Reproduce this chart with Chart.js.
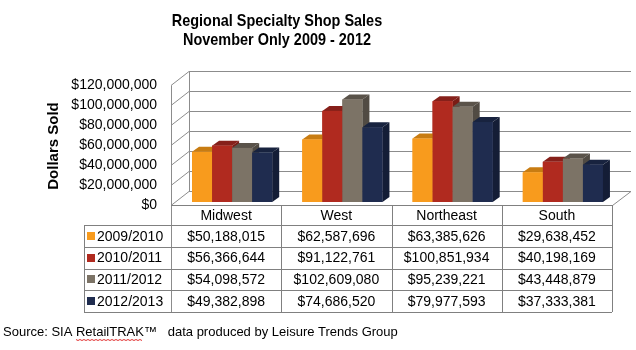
<!DOCTYPE html>
<html>
<head>
<meta charset="utf-8">
<script src="https://cdn.jsdelivr.net/npm/chart.js@4"></script>
<style>
  html, body { margin: 0; padding: 0; background: #fff; }
  #wrap { width: 636px; height: 350px; }
</style>
</head>
<body>
<div id="wrap"><canvas id="chart" width="636" height="350"></canvas></div>
<script>
const regions = ["Midwest", "West", "Northeast", "South"];
const seasons = ["2009/2010", "2010/2011", "2011/2012", "2012/2013"];
const sales2009 = [50188015, 62587696, 63385626, 29638452];
const sales2010 = [56366644, 91122761, 100851934, 40198169];
const sales2011 = [54098572, 102609080, 95239221, 43448879];
const sales2012 = [49382898, 74686520, 79977593, 37333381];
const yTickValues = [0, 20000000, 40000000, 60000000, 80000000, 100000000, 120000000];

const fronts = ["#F89B1D", "#B02A1F", "#7C7366", "#1F2C4F"];
const tops = ["#C87C12", "#86201A", "#5A534A", "#18233F"];
const sides = ["#B8720F", "#7A1C15", "#514B43", "#141D36"];

const FONT = "'Liberation Sans', Arial, sans-serif";
const DX = 18, DY = 14;        // wall depth
const BX = 6, BY = -3;         // bar offset inside the box
const BDX = 7, BDY = 5;        // bar depth
const money = v => "$" + v.toLocaleString("en-US");

const tableTop = 205;
const headerH = 20;
const rowH = 21.75;
const legendLeft = 84;

const boxPlugin = {
  id: "box3d",
  beforeDraw(chart) {
    const { ctx, chartArea: a, scales: { x, y } } = chart;
    ctx.save();
    // titles
    ctx.fillStyle = "#000";
    ctx.textAlign = "center";
    ctx.textBaseline = "middle";
    ctx.font = "bold 17px " + FONT;
    [["Regional Specialty Shop Sales", 21], ["November Only 2009 - 2012", 40]].forEach(([t, ty]) => {
      ctx.save();
      ctx.translate(277, ty);
      ctx.scale(0.85, 1);
      ctx.fillText(t, 0, 0);
      ctx.restore();
    });

    // walls and grid lines
    ctx.strokeStyle = "#8C8C8C";
    ctx.lineWidth = 1;
    const ticks = y.ticks && y.ticks.length ? y.ticks.map(t => t.value) : yTickValues;
    ticks.forEach(v => {
      const py = Math.round(y.getPixelForValue(v)) + 0.5;
      ctx.beginPath();
      ctx.moveTo(a.left, py);
      ctx.lineTo(a.left + DX, py - DY);
      ctx.lineTo(a.right + DX + 1, py - DY);
      ctx.stroke();
    });
    const top = Math.round(y.getPixelForValue(yTickValues[yTickValues.length - 1])) + 0.5;
    const bot = Math.round(y.getPixelForValue(0)) + 0.5;
    ctx.beginPath();
    ctx.moveTo(a.left + 0.5, top); ctx.lineTo(a.left + 0.5, bot + 107);
    ctx.moveTo(a.left + DX + 0.5, top - DY); ctx.lineTo(a.left + DX + 0.5, bot - DY);
    ctx.moveTo(a.right + 0.5, bot); ctx.lineTo(a.right + DX + 1, bot - DY);
    ctx.stroke();

    // y tick labels
    ctx.fillStyle = "#000";
    ctx.font = "14px " + FONT;
    ctx.textAlign = "right";
    ticks.forEach(v => {
      ctx.fillText(money(v), 157, y.getPixelForValue(v));
    });

    // axis title
    ctx.save();
    ctx.translate(54, 146);
    ctx.rotate(-Math.PI / 2);
    ctx.textAlign = "center";
    ctx.font = "bold 15px " + FONT;
    ctx.fillText("Dollars Sold", 0, 0);
    ctx.restore();

    // data table
    const colW = x.width / regions.length;
    const bottom = tableTop + headerH + rowH * seasons.length;
    ctx.strokeStyle = "#808080";
    ctx.beginPath();
    ctx.moveTo(a.left, tableTop + 0.5); ctx.lineTo(a.right, tableTop + 0.5);
    for (let r = 0; r <= seasons.length; r++) {
      const ry = Math.round(tableTop + headerH + rowH * r) + 0.5;
      ctx.moveTo(legendLeft, ry); ctx.lineTo(a.right, ry);
    }
    ctx.moveTo(legendLeft + 0.5, tableTop + headerH); ctx.lineTo(legendLeft + 0.5, bottom);
    for (let c = 1; c <= regions.length; c++) {
      const cx = Math.round(a.left + colW * c) + 0.5;
      ctx.moveTo(cx, tableTop); ctx.lineTo(cx, bottom);
    }
    ctx.stroke();

    ctx.fillStyle = "#000";
    ctx.font = "14px " + FONT;
    ctx.textAlign = "center";
    regions.forEach((r, i) => {
      ctx.fillText(r, x.getPixelForValue(i), tableTop + headerH / 2 + 1);
    });
    const series = [sales2009, sales2010, sales2011, sales2012];
    seasons.forEach((s, r) => {
      const cy = tableTop + headerH + rowH * r + rowH / 2 + 1;
      ctx.fillStyle = fronts[r];
      ctx.fillRect(87, Math.round(cy - 5), 8, 8);
      ctx.fillStyle = "#000";
      ctx.textAlign = "left";
      ctx.fillText(s, 97, cy);
      ctx.textAlign = "center";
      series[r].forEach((v, i) => ctx.fillText(money(v), x.getPixelForValue(i), cy));
    });

    // source line
    ctx.textAlign = "left";
    ctx.font = "13px " + FONT;
    const src1 = "Source: SIA ";
    const src2 = "RetailTRAK";
    ctx.fillText(src1 + src2 + "\u2122   data produced by Leisure Trends Group", 3, 332);
    const ux = 3 + ctx.measureText(src1).width;
    const uw = ctx.measureText(src2).width;
    ctx.strokeStyle = "#E03030";
    ctx.beginPath();
    for (let k = 0; k <= uw; k += 2) {
      const yy = 339.5 + (k % 4 === 0 ? 0 : 1);
      if (k === 0) ctx.moveTo(ux + k, yy); else ctx.lineTo(ux + k, yy);
    }
    ctx.stroke();
    ctx.restore();
  },
  beforeDatasetsDraw(chart) {
    chart.ctx.save();
    chart.ctx.translate(BX, BY);
  },
  afterDatasetsDraw(chart) {
    const ctx = chart.ctx;
    const metas = chart.data.datasets.map((d, i) => chart.getDatasetMeta(i));
    regions.forEach((r, i) => {
      metas.forEach((m, d) => {
        const b = m.data[i].getProps(["x", "y", "base", "width"], true);
        const x0 = b.x - b.width / 2, x1 = b.x + b.width / 2;
        ctx.fillStyle = tops[d];
        ctx.beginPath();
        ctx.moveTo(x0, b.y); ctx.lineTo(x0 + BDX, b.y - BDY);
        ctx.lineTo(x1 + BDX, b.y - BDY); ctx.lineTo(x1, b.y);
        ctx.closePath(); ctx.fill();
        ctx.fillStyle = sides[d];
        ctx.beginPath();
        ctx.moveTo(x1, b.y); ctx.lineTo(x1 + BDX, b.y - BDY);
        ctx.lineTo(x1 + BDX, b.base - BDY); ctx.lineTo(x1, b.base);
        ctx.closePath(); ctx.fill();
        ctx.fillStyle = fronts[d];
        ctx.fillRect(x0, b.y, b.width, b.base - b.y);
      });
    });
    ctx.restore();
  }
};

new Chart(document.getElementById("chart"), {
  type: "bar",
  data: {
    labels: regions,
    datasets: [sales2009, sales2010, sales2011, sales2012].map((vals, i) => ({
      label: seasons[i],
      data: vals,
      backgroundColor: fronts[i],
      borderWidth: 0,
      barPercentage: 1,
      categoryPercentage: 0.727,
      clip: false
    }))
  },
  options: {
    responsive: false,
    animation: false,
    layout: { padding: { left: 171, right: 24, top: 85, bottom: 145 } },
    plugins: { legend: { display: false }, tooltip: { enabled: false }, title: { display: false } },
    scales: {
      x: { display: false },
      y: { display: false, min: 0, max: 120000000, ticks: { stepSize: 20000000 } }
    }
  },
  plugins: [boxPlugin]
});
</script>
</body>
</html>
